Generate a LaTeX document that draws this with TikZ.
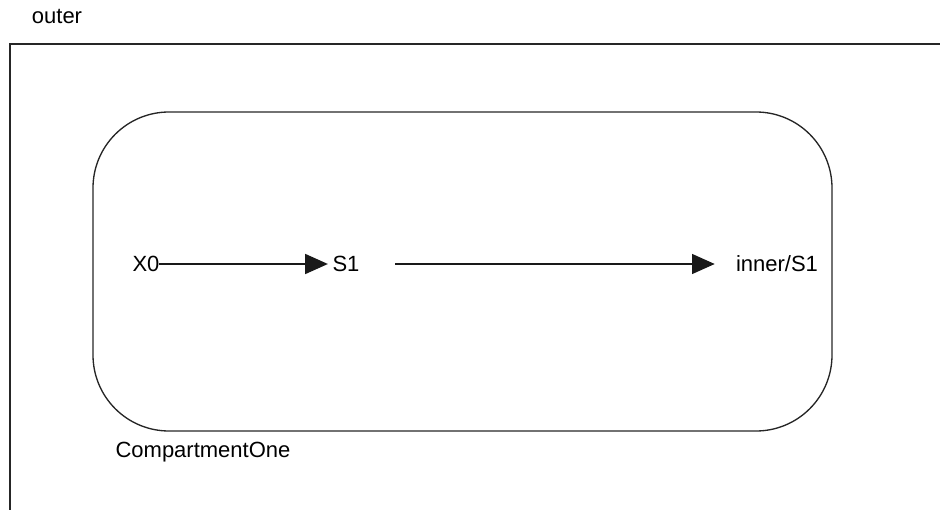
\documentclass[tikz,border=0pt]{standalone}
\usepackage{fontspec}
\setmainfont{Liberation Sans}
\usepackage{tikz}
\usetikzlibrary{arrows.meta}

\begin{document}
\begin{tikzpicture}[x=0.75pt,y=-0.75pt,
		species/.style={inner sep=0pt, outer sep=0pt, font=\fontsize{16.5}{20}\selectfont},
		reaction/.style={-{Triangle[length=17pt,width=15pt]}, line width=1pt, black!90}]
			\useasboundingbox (0,0) rectangle (940,510);
			\clip (0,0) rectangle (940,510);

			%% compartments
			\draw[line width=1pt, black!85] (10,530) -- (10,44) -- (960,44);
			\node[species] (outer) at (57,16) {outer};
			\draw[line width=1pt, black!85, rounded corners=57pt] (93,112) rectangle (832,431);
			\node[species] (comp1) at (203,452) {CompartmentOne};

			%% species
			\node[species] (X0) at (146,264) {X0};
			\node[species] (S1) at (346,264) {S1};
			\node[species] (iS1) at (777,264) {inner/S1};

			%% lines
			\draw[reaction, shorten >=3.5pt] (X0) -- (S1);
			\draw[reaction, shorten <=27pt, shorten >=16pt] (S1) -- (iS1);
		\end{tikzpicture}
\end{document}
